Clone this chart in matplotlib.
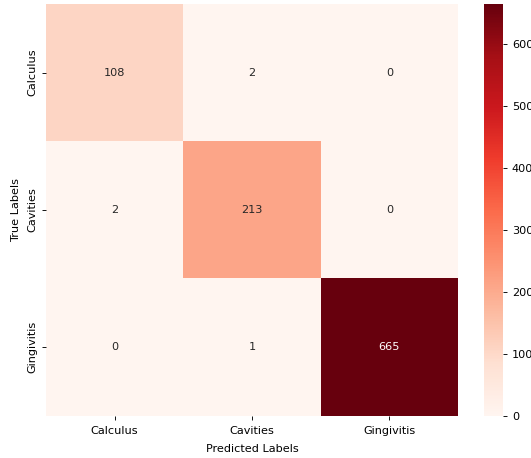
import numpy as np
import matplotlib
matplotlib.use("Agg")
import matplotlib.pyplot as plt
import seaborn as sns

class_names = ["Calculus", "Cavities", "Gingivitis"]
row_calculus = [108, 2, 0]
row_cavities = [2, 213, 0]
row_gingivitis = [0, 1, 665]

cm = np.array([row_calculus, row_cavities, row_gingivitis])

scale = 0.81
plt.rcParams.update({
    "font.size": 10 * scale,
    "xtick.major.size": 3.5 * scale,
    "ytick.major.size": 3.5 * scale,
    "xtick.major.width": 0.8 * scale,
    "ytick.major.width": 0.8 * scale,
    "xtick.major.pad": 5.0,
    "ytick.major.pad": 3.5,
})

fig = plt.figure(figsize=(5.31, 4.58), dpi=100)
ax = fig.add_axes([46 / 531, 42.5 / 458, 412 / 531, 411.5 / 458])
cax = fig.add_axes([484 / 531, 42.5 / 458, 19 / 531, 411.5 / 458])

sns.heatmap(cm, annot=True, fmt="d", cmap="Reds", ax=ax, cbar_ax=cax,
            xticklabels=class_names, yticklabels=class_names,
            annot_kws={"size": 10 * scale})
ax.set_xlabel("Predicted Labels", labelpad=5.5)
ax.set_ylabel("True Labels", labelpad=4.7)

fig.savefig("out.png", dpi=100)
